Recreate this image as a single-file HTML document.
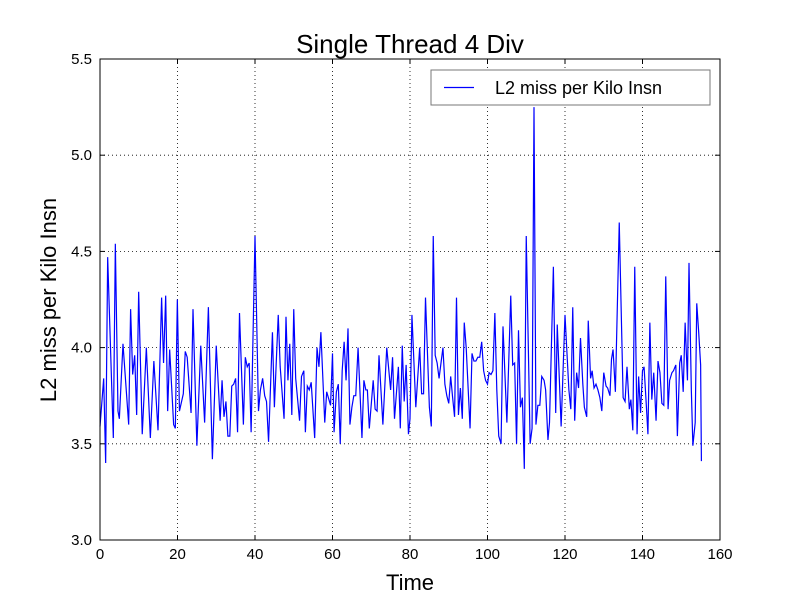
<!DOCTYPE html>
<html><head><meta charset="utf-8"><style>
html,body{margin:0;padding:0;background:#fff;}
svg{display:block;font-family:"Liberation Sans","DejaVu Sans",sans-serif;}
</style></head><body>
<svg id="chart" width="800" height="600" viewBox="0 0 800 600" xmlns="http://www.w3.org/2000/svg">
<rect x="0" y="0" width="800" height="600" fill="#fff"/>
<text x="410" y="53" text-anchor="middle" font-size="26">Single Thread 4 Div</text>
<g id="grid"></g>
<g id="ticks"></g>
<path id="series" fill="none" stroke="#0000ff" stroke-width="1.2" stroke-linejoin="miter"/>
<rect x="100" y="59" width="620" height="481" fill="none" stroke="#000" stroke-width="1"/>
<text x="410" y="590" text-anchor="middle" font-size="22">Time</text>
<text transform="translate(56,300) rotate(-90)" text-anchor="middle" font-size="22">L2 miss per Kilo Insn</text>
<g>
<rect x="431" y="70" width="279" height="35" fill="#fff" stroke="#777" stroke-width="1"/>
<line x1="444" y1="87.5" x2="474" y2="87.5" stroke="#0000ff" stroke-width="1.2"/>
<text x="495" y="94" font-size="18">L2 miss per Kilo Insn</text>
</g>
</svg>
<script>
const xTicks=[0,20,40,60,80,100,120,140,160];
const yTicks=[3.0,3.5,4.0,4.5,5.0,5.5];
const xs=[0,0.95,1.46,1.98,3.44,3.96,4.64,4.99,5.93,7.4,7.9,8.43,8.95,9.46,9.98,10.9,11.96,12.99,13.9,14.97,15.9,16.4,16.95,17.46,17.98,19,19.44,19.96,20.5,21.5,22,22.5,23.5,24,25,26,27,27.97,29,30,31,31.5,32,32.5,33,33.5,34,34.5,35,35.5,36,37,37.5,38,38.5,39,40,40.9,41.4,41.97,42.5,42.97,43.5,44.5,45,46,46.5,47.5,48,48.5,48.97,49.5,50,50.5,51.5,52,52.6,53,53.5,54,54.5,55.4,56,56.5,57,58,58.5,59.5,60,60.4,61,61.5,62,62.5,63,63.5,64,64.5,65,65.5,66,66.6,67.6,68.1,68.6,69,69.5,70.5,71,71.5,72,73,74,75,75.5,76,77,77.5,78,78.5,79,79.6,80,80.5,81.5,82.5,83,83.5,84,85,85.5,86,86.5,87,87.5,88.5,89,89.5,90,90.5,91,91.5,92,92.5,93,93.5,94,94.5,95.5,96,96.5,97,97.5,98,98.5,99,99.5,100,100.4,100.9,101.4,101.9,102.4,102.9,103.5,104,105,106,106.5,107,107.5,108,108.5,109,109.5,110,111,111.5,112,112.5,113,113.5,114,114.6,115,115.6,116,117,117.6,118,119,120,121,121.5,122,122.5,123,123.5,124,124.6,125,125.6,126,126.6,127,127.5,128,128.5,129,129.5,130,130.6,131,131.6,132,132.4,133,134,135,135.5,136,136.6,137,137.5,138,138.6,139,139.5,140,140.4,140.9,141.4,141.9,142.4,142.9,143.5,144,144.5,145,145.5,146,146.6,147,147.6,148,148.6,149,149.6,150,150.5,151,151.6,152,152.6,153,153.6,154,154.5,155,155.2];
const ys=[3.59,3.84,3.40,4.47,3.53,4.54,3.67,3.63,4.02,3.60,4.20,3.86,3.96,3.65,4.29,3.55,4.0,3.53,3.93,3.57,4.26,3.92,4.27,3.67,3.99,3.60,3.58,4.25,3.67,3.76,3.98,3.95,3.66,4.20,3.49,4.01,3.61,4.21,3.42,4.01,3.62,3.83,3.64,3.72,3.54,3.54,3.80,3.81,3.84,3.56,4.18,3.60,3.95,3.90,3.92,3.56,4.58,3.67,3.78,3.84,3.75,3.72,3.51,4.08,3.69,4.17,3.90,3.63,4.16,3.83,4.02,3.65,4.20,3.84,3.62,3.85,3.88,3.56,3.80,3.78,3.82,3.53,4.0,3.90,4.08,3.61,3.77,3.70,3.97,3.56,3.77,3.81,3.50,3.88,4.03,3.83,4.10,3.60,3.69,3.75,3.75,4.0,3.53,3.83,3.78,3.78,3.58,3.83,3.68,3.67,3.96,3.60,4.0,3.78,3.95,3.63,3.90,3.58,4.01,3.72,3.91,3.55,3.63,4.17,3.69,4.0,3.76,3.76,4.26,3.69,3.59,4.58,3.96,3.92,3.84,4.0,3.81,3.75,3.71,3.85,3.74,3.64,4.26,3.65,3.79,3.63,4.13,4.0,3.58,3.97,3.93,3.93,3.95,3.95,4.03,3.88,3.83,3.81,3.87,3.86,3.88,4.18,3.78,3.54,3.50,4.11,3.61,4.27,3.91,3.92,3.50,4.09,3.69,3.74,3.37,4.58,3.50,3.58,5.25,3.60,3.70,3.70,3.85,3.83,3.78,3.52,3.61,4.42,3.66,4.12,3.59,4.17,3.78,3.68,4.21,3.62,3.87,3.79,4.05,3.81,3.69,3.64,4.14,3.84,3.88,3.79,3.81,3.78,3.74,3.67,3.87,3.80,3.79,3.75,3.94,3.99,3.77,4.65,3.74,3.72,3.90,3.68,3.73,3.57,4.42,3.55,3.85,3.66,3.88,3.90,3.73,3.55,4.13,3.73,3.87,3.62,3.93,3.87,3.71,3.70,4.37,3.68,3.83,3.87,3.88,3.91,3.54,3.92,3.96,3.77,4.13,3.83,4.44,3.78,3.49,3.61,4.23,4.08,3.91,3.41];
const X0=100,X1=720,Y0=540,Y1=59;
function sx(v){return X0+(v-0)/(160-0)*(X1-X0);}
function sy(v){return Y0-(v-3.0)/(5.5-3.0)*(Y0-Y1);}
const NS="http://www.w3.org/2000/svg";
const grid=document.getElementById('grid'),ticks=document.getElementById('ticks');
function mk(tag,attrs,parent){const e=document.createElementNS(NS,tag);for(const k in attrs)e.setAttribute(k,attrs[k]);parent.appendChild(e);return e;}
xTicks.forEach(t=>{
  const x=sx(t);
  const g=mk('line',{x1:x,y1:Y1,x2:x,y2:Y0,stroke:'#000','stroke-width':0.8,'stroke-dasharray':'1,3'},grid);
  
  
  const a=mk('line',{x1:x,y1:Y0,x2:x,y2:Y0-5,stroke:'#000'},ticks);
  
  
  const b=mk('line',{x1:x,y1:Y1,x2:x,y2:Y1+5,stroke:'#000'},ticks);
  
  
  const l=mk('text',{x:x,y:Y0+19,'text-anchor':'middle','font-size':15},ticks);
  l.textContent=String(t);
  
  
});
yTicks.forEach(t=>{
  const y=sy(t);
  const g=mk('line',{x1:X0,y1:y,x2:X1,y2:y,stroke:'#000','stroke-width':0.8,'stroke-dasharray':'1,3'},grid);
  
  
  const a=mk('line',{x1:X0,y1:y,x2:X0+5,y2:y,stroke:'#000'},ticks);
  
  
  const b=mk('line',{x1:X1,y1:y,x2:X1-5,y2:y,stroke:'#000'},ticks);
  
  
  const l=mk('text',{x:X0-8,y:y+5,'text-anchor':'end','font-size':15},ticks);
  l.textContent=t.toFixed(1);
  
  
});
let d='';
xs.forEach((v,i)=>{d+=(i?'L':'M')+sx(v).toFixed(2)+','+sy(ys[i]).toFixed(2);});
document.getElementById('series').setAttribute('d',d);
</script>
</body></html>
